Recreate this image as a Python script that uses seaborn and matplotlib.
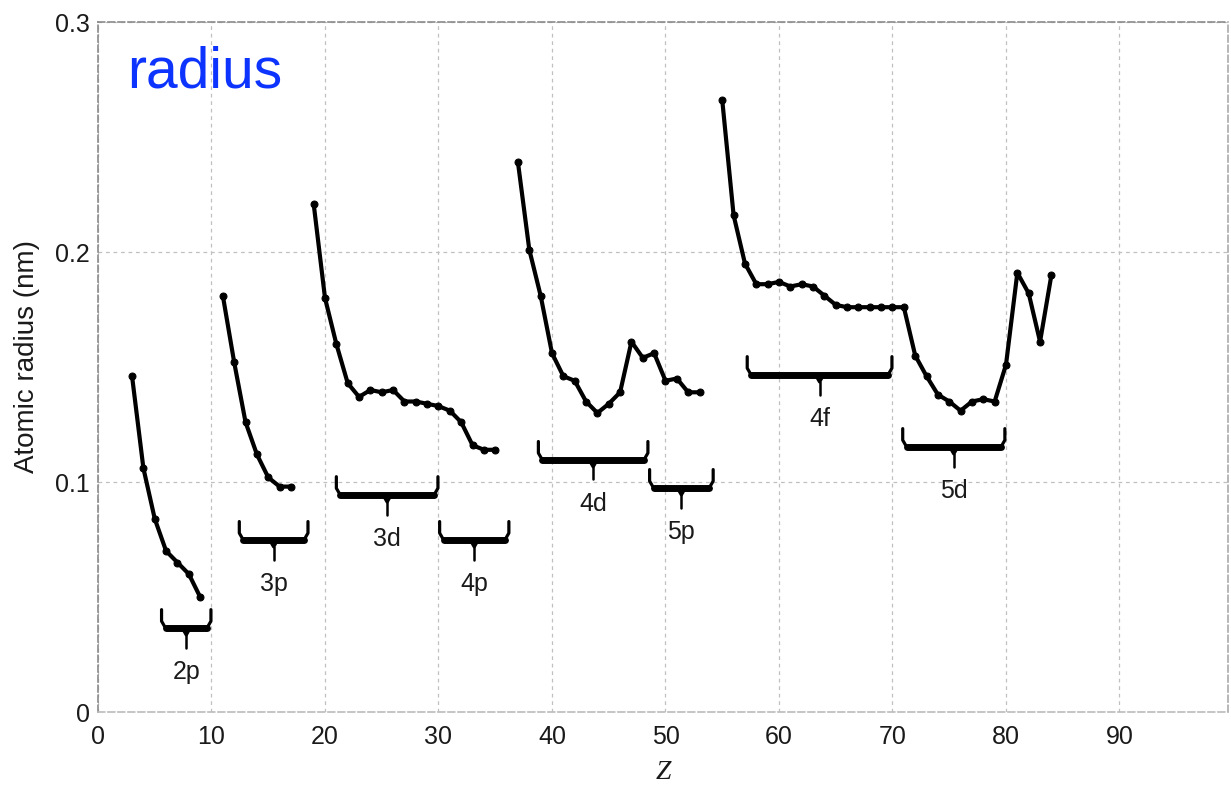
import numpy as np
import pandas as pd
import matplotlib
matplotlib.use("Agg")
import matplotlib.pyplot as plt
import seaborn as sns

# ---------------- data ----------------
z_period2 = [3, 4, 5, 6, 7, 8, 9]
r_period2 = [0.146, 0.106, 0.084, 0.070, 0.065, 0.060, 0.050]

z_period3 = [11, 12, 13, 14, 15, 16, 17]
r_period3 = [0.181, 0.152, 0.126, 0.112, 0.102, 0.098, 0.098]

z_period4 = [19, 20, 21, 22, 23, 24, 25, 26, 27, 28, 29, 30, 31, 32, 33, 34, 35]
r_period4 = [0.221, 0.180, 0.160, 0.143, 0.137, 0.140, 0.139, 0.140, 0.135,
             0.135, 0.134, 0.133, 0.131, 0.126, 0.116, 0.114, 0.114]

z_period5 = [37, 38, 39, 40, 41, 42, 43, 44, 45, 46, 47, 48, 49, 50, 51, 52, 53]
r_period5 = [0.239, 0.201, 0.181, 0.156, 0.146, 0.144, 0.135, 0.130, 0.134,
             0.139, 0.161, 0.154, 0.156, 0.144, 0.145, 0.139, 0.139]

z_period6 = [55, 56, 57, 58, 59, 60, 61, 62, 63, 64, 65, 66, 67, 68, 69, 70,
             71, 72, 73, 74, 75, 76, 77, 78, 79, 80, 81, 82, 83, 84]
r_period6 = [0.266, 0.216, 0.195, 0.186, 0.186, 0.187, 0.185, 0.186, 0.185,
             0.181, 0.177, 0.176, 0.176, 0.176, 0.176, 0.176, 0.176, 0.155,
             0.146, 0.138, 0.135, 0.131, 0.135, 0.136, 0.135, 0.151, 0.191,
             0.182, 0.161, 0.190]

# subshell braces
shell_labels = ["2p", "3p", "3d", "4p", "4d", "5p", "4f", "5d"]
shell_z_start = [5.6, 12.45, 21.0, 30.1, 38.8, 48.6, 57.2, 70.9]
shell_z_end = [9.95, 18.5, 29.95, 36.2, 48.45, 54.2, 69.95, 79.9]
shell_level = [0.0365, 0.0748, 0.0943, 0.0748, 0.1096, 0.0974, 0.1465, 0.1152]

x_ticks = [0, 10, 20, 30, 40, 50, 60, 70, 80, 90]
y_ticks = [0, 0.1, 0.2, 0.3]
y_tick_labels = ["0", "0.1", "0.2", "0.3"]

# ---------------- table ----------------
blocks = [(z_period2, r_period2), (z_period3, r_period3), (z_period4, r_period4),
          (z_period5, r_period5), (z_period6, r_period6)]
df = pd.concat(
    [pd.DataFrame({"Z": z, "radius": r, "block": i}) for i, (z, r) in enumerate(blocks)],
    ignore_index=True,
)

# ---------------- figure ----------------
sns.set_style("white")
plt.rcParams["font.family"] = ["Liberation Sans", "DejaVu Sans"]

fig = plt.figure(figsize=(12.31, 7.90), dpi=100)
ax = fig.add_axes([98 / 1231, 78 / 790, 1130 / 1231, 690 / 790])

sns.lineplot(data=df, x="Z", y="radius", units="block", estimator=None, sort=False,
             color="black", lw=3.0, marker="o", markersize=5,
             markeredgecolor="black", markerfacecolor="black",
             legend=False, ax=ax, zorder=3)

ax.set_xlim(0, 1130 / 11.35)
ax.set_ylim(0, 0.3)
ax.set_xticks(x_ticks)
ax.set_xticklabels([str(t) for t in x_ticks])
ax.set_yticks(y_ticks)
ax.set_yticklabels(y_tick_labels)
ax.tick_params(axis="x", length=0, pad=9, labelsize=18, colors="#1a1a1a")
ax.tick_params(axis="y", length=0, pad=6, labelsize=18, colors="#1a1a1a")

ax.grid(True, color="#c0c0c0", lw=0.9, linestyle=(0, (3, 3)))
ax.set_axisbelow(True)
for side, sp in ax.spines.items():
    sp.set_visible(True)
    sp.set_color("#8a8a8a")
    sp.set_linewidth(1.2)
    sp.set_linestyle((0, (4, 2)))
ax.spines["bottom"].set_color("#bbbbbb")
ax.spines["right"].set_color("#aaaaaa")

ax.set_xlabel("Z", fontsize=20, family=["Liberation Serif", "DejaVu Serif"],
              style="italic", labelpad=8, color="#1a1a1a")
ax.set_ylabel("Atomic radius (nm)", fontsize=20, color="#1a1a1a")
ax.yaxis.set_label_coords(-0.051, 0.515)

# braces
def draw_brace(z0, z1, yb, label):
    zm = (z0 + z1) / 2
    top = yb + 0.008
    tip = yb - 0.0085
    e = 0.35
    d = 0.003
    kw = dict(color="black", solid_capstyle="round", solid_joinstyle="round", zorder=3)
    ax.plot([z0, z0, z0 + e, zm - e, zm, zm + e, z1 - e, z1, z1],
            [top, yb + d, yb, yb, yb - d, yb, yb, yb + d, top], lw=2.3, **kw)
    ax.plot([z0 + e, z1 - e], [yb, yb], lw=5.0, **kw)
    ax.plot([zm, zm], [yb - d, tip], lw=1.8, **kw)
    ax.text(zm, yb - 0.019, label, ha="center", va="center", fontsize=18,
            color="#1a1a1a")

for lab, z0, z1, yb in zip(shell_labels, shell_z_start, shell_z_end, shell_level):
    draw_brace(z0, z1, yb, lab)

ax.text(2.6, 0.2717, "radius", fontsize=41, color="#0d33ff",
        ha="left", va="baseline")

fig.savefig("out.png", dpi=100)
